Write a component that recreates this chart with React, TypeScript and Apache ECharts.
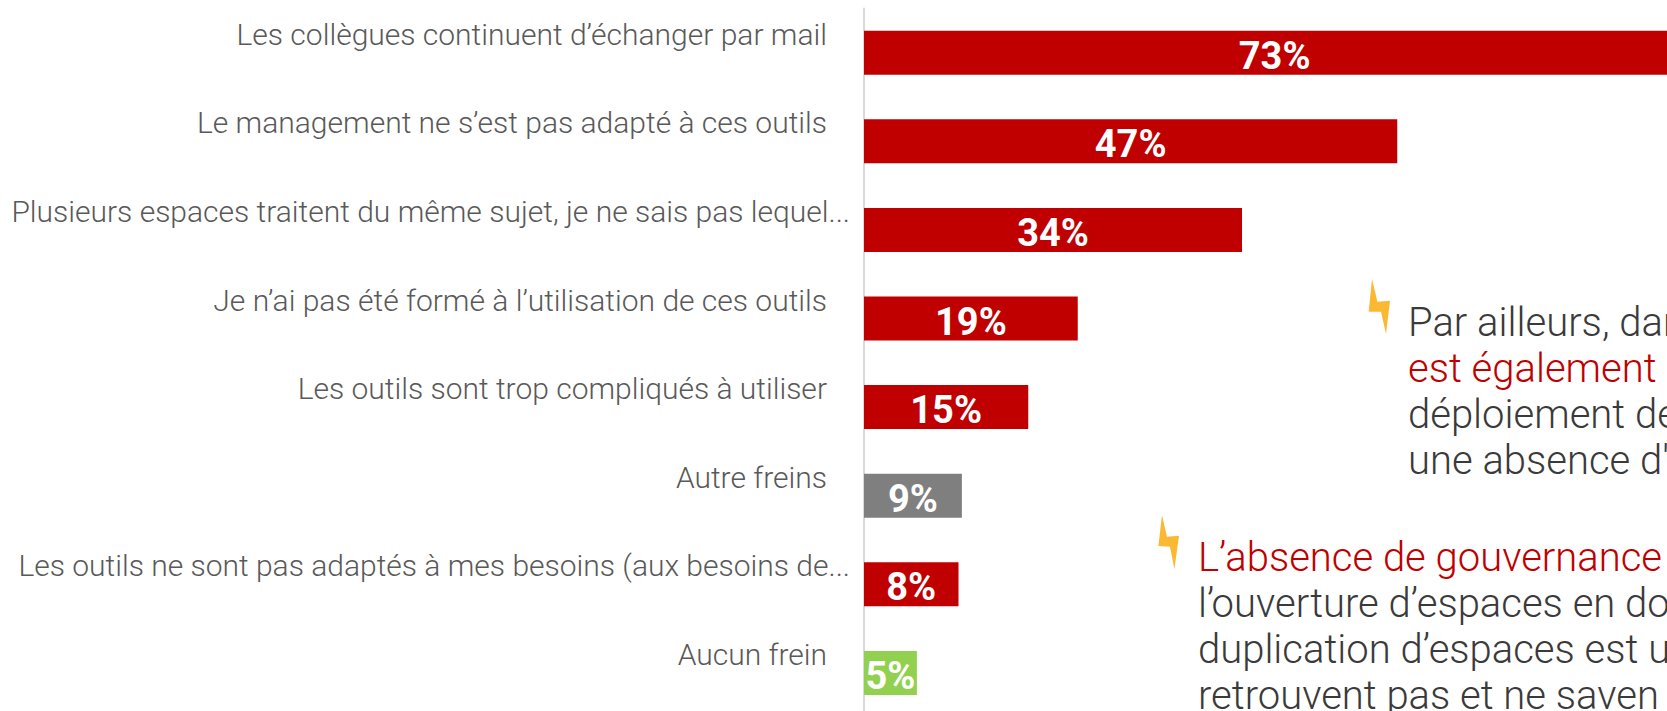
import React, { useEffect, useRef } from "react";
import * as echarts from "echarts";

const categories = [
  "Les collègues continuent d’échanger par mail",
  "Le management ne s’est pas adapté à ces outils",
  "Plusieurs espaces traitent du même sujet, je ne sais pas lequel...",
  "Je n’ai pas été formé à l’utilisation de ces outils",
  "Les outils sont trop compliqués à utiliser",
  "Autre freins",
  "Les outils ne sont pas adaptés à mes besoins (aux besoins de...",
  "Aucun frein",
];
const values = [73, 47.4, 33.6, 19, 14.6, 8.7, 8.4, 4.7];
const valueLabels = ["73%", "47%", "34%", "19%", "15%", "9%", "8%", "5%"];
const barColors = ["#C00000", "#C00000", "#C00000", "#C00000", "#C00000", "#7F7F7F", "#C00000", "#92D050"];
const longLabels = [2, 6];

const noteOne = [
  { text: "Par ailleurs, dan", color: "#3A3A3A" },
  { text: "est également", color: "#C00000" },
  { text: "déploiement de", color: "#3A3A3A" },
  { text: "une absence d'", color: "#3A3A3A" },
];
const noteTwo = [
  { text: "L’absence de gouvernance", color: "#C00000" },
  { text: "l’ouverture d’espaces en do", color: "#3A3A3A" },
  { text: "duplication d’espaces est u", color: "#3A3A3A" },
  { text: "retrouvent pas et ne saven", color: "#3A3A3A" },
];
const boltOne = [[1372, 279], [1377.4, 301.7], [1390, 300.7], [1386, 334], [1381, 311.7], [1368.7, 311.7]];
const boltTwo = [[1162, 515], [1167, 536.7], [1179, 535.7], [1174.4, 569], [1170, 546.7], [1158.4, 546]];

const FONT = "Roboto, sans-serif";

export default function App() {
  const ref = useRef<HTMLDivElement>(null);
  useEffect(() => {
    document.body.style.margin = "0";
    const chart = echarts.init(ref.current!, undefined, { renderer: "svg" });
    const noteText = (lines: { text: string; color: string }[], x: number, y0: number) =>
      lines.map((l, i) => ({
        type: "text",
        x,
        y: y0 + i * 46.3,
        style: { text: l.text, fill: l.color, font: `300 40px Roboto, sans-serif`, textVerticalAlign: "middle" },
      }));
    chart.setOption({
      animation: false,
      grid: { left: 864, top: 8.4, width: 900, height: 708.8, outerBoundsMode: "none" },
      xAxis: { type: "value", min: 0, max: 80, show: false },
      yAxis: {
        type: "category",
        inverse: true,
        data: categories,
        axisTick: { show: false },
        axisLine: { lineStyle: { color: "#D9D9D9", width: 2 } },
        axisLabel: {
          margin: 14,
          interval: 0,
          formatter: (v: string, i: number) => (longLabels.includes(i) ? `{b|${v}}` : `{a|${v}}`),
          rich: {
            a: { fontFamily: FONT, fontWeight: 300, fontSize: 30, color: "#595959", padding: [0, 23, 37, 0] },
            b: { fontFamily: FONT, fontWeight: 300, fontSize: 30, color: "#595959", padding: [0, 0, 37, 0] },
          },
        },
      },
      series: [
        {
          type: "bar",
          barWidth: 44,
          data: values.map((v, i) => ({ value: v, itemStyle: { color: barColors[i] } })),
          label: {
            show: true,
            position: "inside",
            offset: [0, 3],
            color: "#fff",
            fontFamily: "Roboto, sans-serif",
            fontWeight: "bold",
            fontSize: 38,
            formatter: (p: any) => valueLabels[p.dataIndex],
          },
        },
      ],
      graphic: [
        { type: "polygon", shape: { points: boltOne }, style: { fill: "#FBB832" } },
        { type: "polygon", shape: { points: boltTwo }, style: { fill: "#FBB832" } },
        ...noteText(noteOne, 1408, 322),
        ...noteText(noteTwo, 1198, 557),
      ],
    });
    return () => chart.dispose();
  }, []);
  return <div ref={ref} style={{ width: 1667, height: 711, overflow: "hidden" }} />;
}
